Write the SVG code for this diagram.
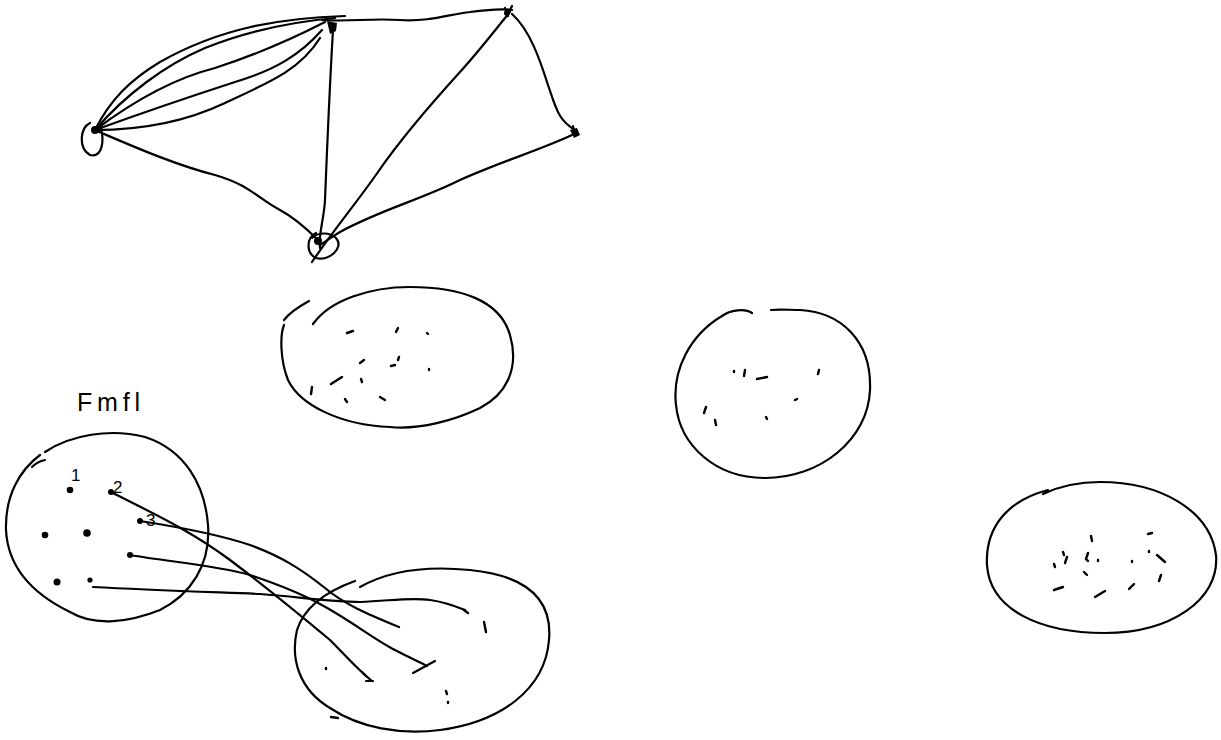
<svg xmlns="http://www.w3.org/2000/svg" width="1221" height="740" viewBox="0 0 1221 740">
<style>
.s{fill:none;stroke:#000;stroke-width:2.2;stroke-linecap:round;stroke-linejoin:round}
.d{fill:none;stroke:#000;stroke-width:2.4;stroke-linecap:round}
.dot{fill:#000}
.t{font-family:"Liberation Sans",Arial,sans-serif;fill:#000}
</style>
<rect width="1221" height="740" fill="#fff"/>

<g id="connectors">
<!-- A-B bundle -->
<path class="s" d="M95,130 C110,100 130,80 160,62 C220,28 280,18 345,16"/>
<path class="s" d="M95,130 C125,95 165,65 205,48 C250,30 290,22 335,18"/>
<path class="s" d="M95,130 C135,100 175,78 215,68 C255,55 290,40 325,22"/>
<path class="s" d="M95,130 C150,110 195,95 235,82 C275,70 300,55 322,30"/>
<path class="s" d="M95,130 C140,130 185,122 225,103 C270,82 300,70 320,38"/>
<!-- B-C -->
<path class="s" d="M322,20 C350,22 370,18 400,20 C430,22 450,14 470,12 C485,10 500,8 512,10"/>
<!-- B-E -->
<path class="s" d="M333,30 C330,80 327,150 325,200 C324,220 318,235 320,248"/>
<!-- C-E -->
<path class="s" d="M510,12 C495,30 480,50 460,72 C430,105 400,140 378,172 C355,205 335,228 312,262"/>
<!-- C-D -->
<path class="s" d="M512,14 C530,30 540,60 548,85 C556,108 558,120 575,130"/>
<!-- D-E -->
<path class="s" d="M572,135 C540,150 500,162 460,180 C420,200 380,210 340,232 C330,238 325,242 320,245"/>
<!-- A-E -->
<path class="s" d="M97,131 C130,145 175,165 215,175 C250,185 260,200 280,210 C295,218 310,232 318,240"/>

<!-- FMfl links -->
<path class="s" d="M111,492 C150,512 190,530 230,560 C270,590 300,615 330,640 C345,655 358,670 372,681"/>
<path class="s" d="M140,521 C185,528 220,535 250,545 C280,556 300,568 325,588 C345,605 370,615 399,627"/>
<path class="s" d="M130,555 C170,562 215,565 250,575 C280,585 300,593 320,604 C350,620 375,640 395,650 C410,658 420,662 427,666"/>
<path class="s" d="M93,587 C150,590 210,592 260,594 C300,597 330,602 360,602 C390,601 410,597 430,600 C445,602 455,606 465,610"/>
</g>

<g id="node-a">
<circle class="dot" cx="95" cy="130" r="4"/>
<path class="s" d="M90,123 C80,128 78,148 90,155 C103,158 104,140 101,128"/>
</g>
<g id="node-b">
<path class="dot" d="M327,21 L337,23 L336,31 L330,34 Z"/>
</g>
<g id="node-c">
<circle class="dot" cx="507" cy="13" r="3"/>
<path class="s" d="M505,8 L508,16 M512,6 L507,16"/>
</g>
<g id="node-d">
<path class="dot" d="M570,130 L577,128 L580,135 L574,138 Z"/>
<path class="s" d="M573,126 L574,132"/>
</g>
<g id="node-e">
<circle class="dot" cx="318" cy="241" r="4"/>
<path class="s" d="M316,233 C306,238 306,253 316,258 C328,262 345,248 336,238 C330,232 318,232 312,238"/>
</g>

<g id="blob-center">
<path class="s" d="M284,320 C290,312 300,306 309,301"/>
<path class="s" d="M313,324 C330,300 370,287 410,287 C460,287 500,300 510,335 C520,370 505,395 480,408 C455,420 420,430 390,427 C340,425 300,405 288,380 C280,360 280,335 284,325"/>
<path class="d" d="M347,333 L353,331 M396,332 L398,328 M427,333 L428,334 M360,363 L364,360 M391,366 L395,365 M398,360 L399,357 M429,369 L429,370 M331,384 L342,377 M312,387 L311,394 M361,379 L362,382 M345,399 L347,402 M380,397 L385,400"/>
</g>

<g id="blob-right">
<path class="s" d="M752,313 C745,308 730,310 722,316 C690,335 672,370 676,405 C680,445 715,478 765,478 C820,478 868,440 870,390 C872,340 840,312 800,310 C790,310 780,309 771,310"/>
<path class="d" d="M734,371 L734,372 M745,370 L744,376 M757,379 L767,377 M819,370 L818,374 M797,399 L795,400 M706,407 L704,413 M715,420 L716,425 M766,417 L767,419"/>
</g>

<g id="blob-far">
<path class="s" d="M1043,494 C1060,486 1080,482 1100,482 C1160,482 1210,510 1216,555 C1220,600 1170,633 1105,633 C1040,633 990,610 987,565 C985,525 1010,500 1048,490"/>
<path class="d" d="M1091,536 L1092,541 M1148,534 L1152,533 M1063,552 L1064,555 M1067,557 L1065,563 M1054,564 L1055,567 M1088,553 L1086,559 L1088,561 M1098,560 L1098,561 M1132,561 L1132,562 M1149,551 L1149,552 M1157,555 L1165,562 M1084,572 L1087,575 M1161,575 L1159,581 M1054,590 L1063,587 M1095,597 L1105,591 M1129,589 L1134,584"/>
</g>

<g id="blob-fmfl">
<text class="t" x="77" y="411" font-size="25" textLength="63" lengthAdjust="spacing">Fmfl</text>
<path class="s" d="M32,467 C36,463 40,461 45,460"/>
<path class="s" d="M45,452 C70,435 110,428 145,437 C185,450 205,485 208,525 C211,565 190,595 160,610 C130,622 95,627 70,612 C35,595 8,570 6,530 C5,495 20,470 40,455"/>
<circle class="dot" cx="70" cy="490" r="3.3"/>
<circle class="dot" cx="111" cy="492" r="3"/>
<circle class="dot" cx="140" cy="521" r="3"/>
<circle class="dot" cx="45" cy="535" r="3.3"/>
<circle class="dot" cx="87" cy="533" r="3.8"/>
<circle class="dot" cx="130" cy="555" r="3"/>
<circle class="dot" cx="57" cy="582" r="3.5"/>
<circle class="dot" cx="90" cy="580" r="2.6"/>
<text class="t" x="71" y="481" font-size="17">1</text>
<text class="t" x="113" y="493" font-size="17">2</text>
<text class="t" x="146" y="526" font-size="17">3</text>
</g>

<g id="blob-bottom">
<path class="s" d="M355,581 C330,590 305,605 297,630 C290,660 300,690 330,708 C360,728 400,735 440,730 C500,722 545,690 549,640 C553,595 520,575 470,570 C430,566 390,570 360,587"/>
<path class="d" d="M464,610 L468,613 M484,622 L486,632 M326,668 L326,669 M446,691 L447,694 M448,702 L448,703 M331,717 L338,718"/>
<path class="s" d="M413,673 L435,661 M362,672 L366,676 M366,681 L373,681"/>
</g>
</svg>
